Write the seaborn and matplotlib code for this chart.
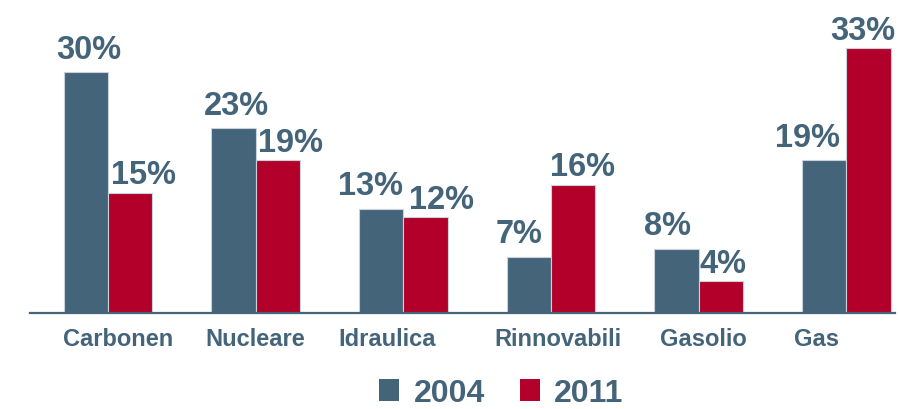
import matplotlib
matplotlib.use("Agg")
import matplotlib.pyplot as plt
import seaborn as sns
import pandas as pd
from matplotlib.patches import Patch

categories = ["Carbonen", "Nucleare", "Idraulica", "Rinnovabili", "Gasolio", "Gas"]
years = ["2004", "2011"]
values_2004 = [30, 23, 13, 7, 8, 19]
values_2011 = [15, 19, 12, 16, 4, 33]

BLUE = "#44647A"
RED = "#B3002A"
EDGE = "#C8D2DB"

# label placement tweaks (pixels / category units)
label_dx_2004 = [3, 3, -11, -10, -9, -17]
label_dx_2011 = [13, 13, 16, 9, 2, -6]
tick_shift = [0.07, 0.0, -0.11, 0.05, 0.03, -0.2]

df = pd.DataFrame({
    "cat": categories * 2,
    "year": [years[0]] * len(categories) + [years[1]] * len(categories),
    "val": values_2004 + values_2011,
})

sns.set_theme(style="white")
plt.rcParams["font.family"] = ["Liberation Sans", "DejaVu Sans"]

fig = plt.figure(figsize=(9, 4.1), dpi=100)
ax = fig.add_axes([30 / 900, 96 / 410, 865 / 900, 281 / 410])

sns.barplot(data=df, x="cat", y="val", hue="year", order=categories,
            hue_order=years, palette=[BLUE, RED], width=0.6, gap=0,
            saturation=1, edgecolor=EDGE, linewidth=0.8, legend=False, ax=ax)

ax.set_ylim(0, 35)
ax.set_xlim(-0.528, 5.33)

pads = [5.5, 1.5]
for cont, vals, pad, dxs in zip(ax.containers, [values_2004, values_2011], pads,
                                [label_dx_2004, label_dx_2011]):
    texts = ax.bar_label(cont, labels=[f"{v}%" for v in vals], padding=pad,
                         fontsize=23.5, fontweight="bold", color=BLUE)
    for t, dx in zip(texts, dxs):
        t.xyann = (dx * 0.72, pad)

for s in ["top", "right", "left"]:
    ax.spines[s].set_visible(False)
ax.spines["bottom"].set_color(BLUE)
ax.spines["bottom"].set_linewidth(1.6)
ax.set_yticks([])
ax.set_xticks([i + s for i, s in enumerate(tick_shift)])
ax.set_xticklabels(categories)
ax.set_xlabel("")
ax.set_ylabel("")
ax.tick_params(axis="x", length=0, pad=10)
for lab in ax.get_xticklabels():
    lab.set_fontsize(17)
    lab.set_fontweight("bold")
    lab.set_color(BLUE)

handles = [Patch(facecolor=BLUE, edgecolor="none"), Patch(facecolor=RED, edgecolor="none")]
leg = fig.legend(handles, years, loc="center", bbox_to_anchor=(0.557, 0.038),
                 ncol=2, frameon=False, handlelength=0.63, handleheight=0.68,
                 handletextpad=0.45, columnspacing=1.1,
                 prop={"size": 23, "weight": "bold"})
for t in leg.get_texts():
    t.set_color(BLUE)

fig.savefig("out.png", dpi=100, facecolor="white")
